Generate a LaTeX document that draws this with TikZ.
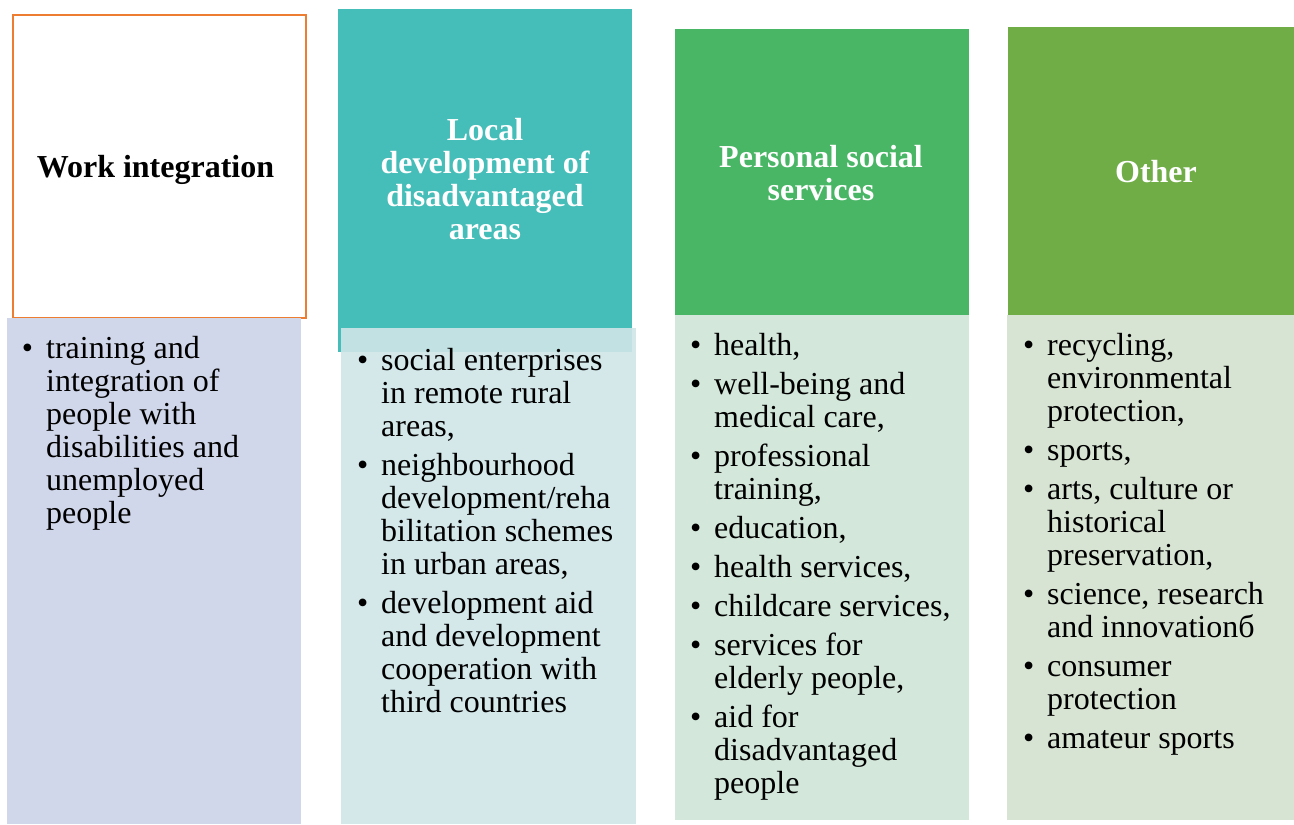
\documentclass[tikz,border=0pt]{standalone}
\usepackage{fontspec}
\setmainfont{Liberation Serif}

% column colours
\definecolor{wiborder}{HTML}{ED7D31}
\definecolor{wibody}{HTML}{D1D7EA}
\definecolor{ldhead}{HTML}{45BDB8}
\definecolor{ldbody}{HTML}{CFE5E8}
\definecolor{pshead}{HTML}{48B665}
\definecolor{psbody}{HTML}{D3E7DB}
\definecolor{othead}{HTML}{70AD47}
\definecolor{otbody}{HTML}{D8E4D3}

\tikzset{
  hdrtext/.style={inner sep=0pt, font=\fontsize{32}{33}\selectfont\bfseries},
  bodytext/.style={inner sep=0pt, anchor=north west, font=\fontsize{32}{33}\selectfont},
}
% bullet hanging to the left of the item text
\newcommand\bl{\llap{\textbullet\hspace{13pt}}}

\begin{document}
\begin{tikzpicture}[x=1pt,y=-1pt]
\useasboundingbox (0,0) rectangle (1294,825);

% ---- header boxes ----
\draw[wiborder, line width=2pt, fill=white] (13,15) rectangle (306,318);
\fill[ldhead] (338,9) rectangle (632,352);
\fill[pshead] (675,29) rectangle (969,315);
\fill[othead] (1008,27) rectangle (1294,315);

% ---- body boxes ----
\fill[wibody] (7,318) rectangle (301,824);
\fill[ldbody, fill opacity=0.9] (341,328) rectangle (636,824);
\fill[psbody] (675,315) rectangle (969,820);
\fill[otbody] (1007,315) rectangle (1294,820);

% ---- header texts ----
\node[hdrtext, anchor=base] (h1) at (155.5,177) {Work integration};
\node[hdrtext, anchor=north, text=white] (h2) at (485,116.9)
  {\begin{tabular}{@{}c@{}}Local\\development of\\disadvantaged\\areas\end{tabular}};
\node[hdrtext, anchor=north, text=white] (h3) at (821,143.9)
  {\begin{tabular}{@{}c@{}}Personal social\\services\end{tabular}};
\node[hdrtext, anchor=base, text=white] (h4) at (1156,182) {Other};

% ---- bullet lists ----
\node[bodytext] (b1) at (46,334.9) {\begin{tabular}{@{}l@{}}
\bl training and\\
integration of\\
people with\\
disabilities and\\
unemployed\\
people
\end{tabular}};

\node[bodytext] (b2) at (381,346.9) {\begin{tabular}{@{}l@{}}
\bl social enterprises\\
in remote rural\\
areas,\\[6pt]
\bl neighbourhood\\
development/reha\\
bilitation schemes\\
in urban areas,\\[6pt]
\bl development aid\\
and development\\
cooperation with\\
third countries
\end{tabular}};

\node[bodytext] (b3) at (714,331.9) {\begin{tabular}{@{}l@{}}
\bl health,\\[6pt]
\bl well-being and\\
medical care,\\[6pt]
\bl professional\\
training,\\[6pt]
\bl education,\\[6pt]
\bl health services,\\[6pt]
\bl childcare services,\\[6pt]
\bl services for\\
elderly people,\\[6pt]
\bl aid for\\
disadvantaged\\
people
\end{tabular}};

\node[bodytext] (b4) at (1047,331.9) {\begin{tabular}{@{}l@{}}
\bl recycling,\\
environmental\\
protection,\\[6pt]
\bl sports,\\[6pt]
\bl arts, culture or\\
historical\\
preservation,\\[6pt]
\bl science, research\\
and innovationб\\[6pt]
\bl consumer\\
protection\\[6pt]
\bl amateur sports
\end{tabular}};
\end{tikzpicture}
\end{document}
